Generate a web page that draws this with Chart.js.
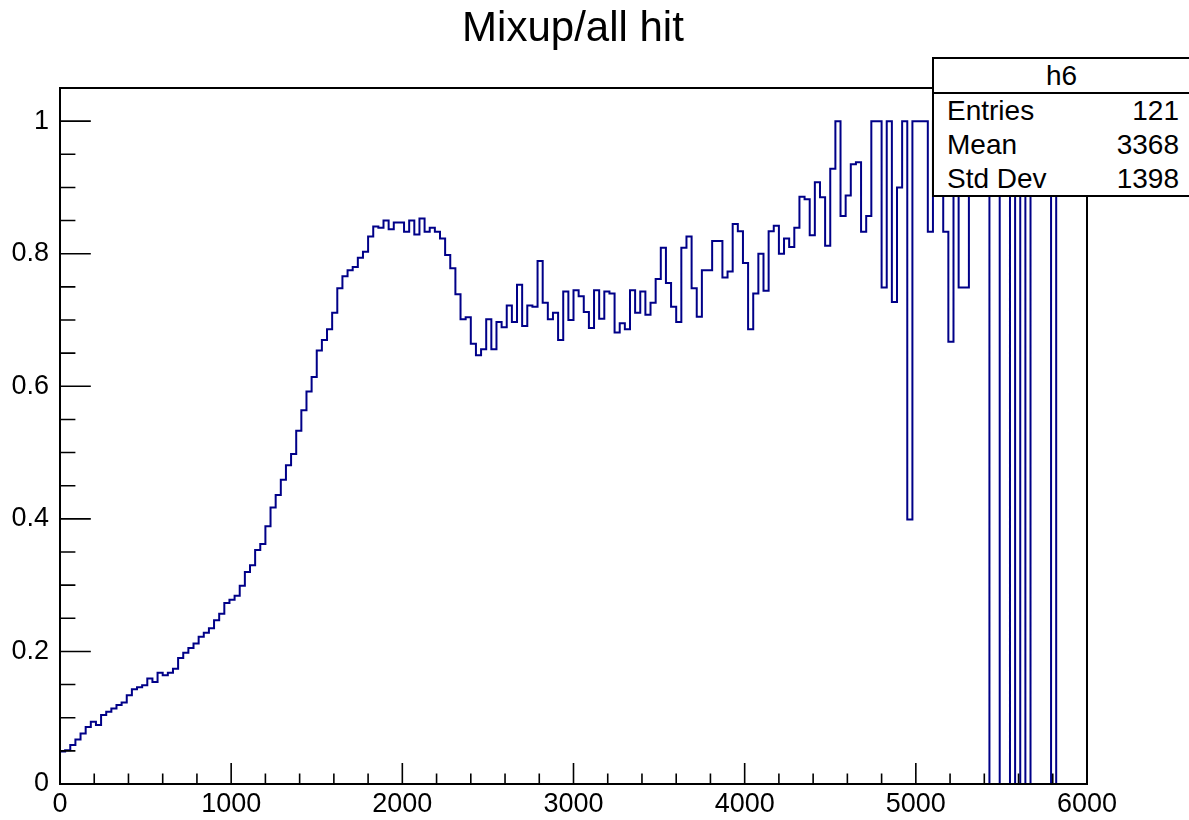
<!DOCTYPE html>
<html>
<head>
<meta charset="utf-8">
<script src="https://cdn.jsdelivr.net/npm/chart.js@4/dist/chart.umd.min.js"></script>
<style>
  html, body { margin: 0; padding: 0; background: #fff; }
  #wrap { position: relative; width: 1189px; height: 820px; font-family: "Liberation Sans", Arial, sans-serif; color: #000; }
  #histChart { position: absolute; left: 0; top: 0; }
  #title { position: absolute; left: 0; top: 3px; width: 1146px; text-align: center; font-size: 42px; line-height: 48px; }
  #stats { position: absolute; left: 932px; top: 57px; width: 255px; height: 136px; border: 2px solid #000; background: #fff; font-size: 28px; }
  #stats .head { height: 33px; line-height: 33px; text-align: center; border-bottom: 2px solid #000; }
  #stats .row { position: relative; height: 34px; line-height: 34px; }
  #stats .row span.k { position: absolute; left: 13px; }
  #stats .row span.v { position: absolute; right: 10px; }
</style>
</head>
<body>
<div id="wrap">
  <canvas id="histChart" width="1189" height="820"></canvas>
  <div id="title">Mixup/all hit</div>
  <div id="stats">
    <div class="head">h6</div>
    <div class="row"><span class="k">Entries</span><span class="v" id="entries"></span></div>
    <div class="row"><span class="k">Mean</span><span class="v" id="mean"></span></div>
    <div class="row"><span class="k">Std Dev</span><span class="v" id="stddev"></span></div>
  </div>
</div>
<script>
// histogram h6: 200 bins from 0 to 6000
const xMin = 0;
const xMax = 6000;
const binWidth = 30;

const binValues = [
  0.049, 0.051, 0.059, 0.067, 0.076, 0.086, 0.094, 0.089, 0.104, 0.109,
  0.114, 0.119, 0.123, 0.134, 0.143, 0.146, 0.149, 0.159, 0.154, 0.168,
  0.164, 0.168, 0.174, 0.190, 0.198, 0.205, 0.212, 0.222, 0.228, 0.235,
  0.247, 0.257, 0.273, 0.278, 0.284, 0.299, 0.320, 0.330, 0.353, 0.362,
  0.389, 0.417, 0.436, 0.459, 0.481, 0.498, 0.533, 0.564, 0.592, 0.614,
  0.654, 0.670, 0.686, 0.711, 0.748, 0.766, 0.775, 0.780, 0.794, 0.803,
  0.826, 0.841, 0.839, 0.850, 0.837, 0.847, 0.847, 0.833, 0.850, 0.829,
  0.853, 0.833, 0.839, 0.833, 0.823, 0.798, 0.778, 0.739, 0.701, 0.704,
  0.664, 0.647, 0.656, 0.701, 0.656, 0.697, 0.689, 0.722, 0.697, 0.753,
  0.691, 0.722, 0.720, 0.789, 0.726, 0.701, 0.711, 0.670, 0.743, 0.700,
  0.745, 0.736, 0.712, 0.688, 0.745, 0.702, 0.743, 0.740, 0.681, 0.695,
  0.686, 0.745, 0.711, 0.743, 0.708, 0.726, 0.762, 0.809, 0.756, 0.720,
  0.697, 0.809, 0.826, 0.748, 0.705, 0.775, 0.775, 0.819, 0.819, 0.764,
  0.773, 0.845, 0.834, 0.786, 0.686, 0.740, 0.800, 0.744, 0.834, 0.842,
  0.800, 0.823, 0.810, 0.839, 0.886, 0.882, 0.828, 0.908, 0.885, 0.812,
  0.928, 1.000, 0.857, 0.888, 0.935, 0.938, 0.833, 0.857, 1.000, 1.000,
  0.749, 1.000, 0.727, 0.900, 1.000, 0.399, 1.000, 1.000, 1.000, 0.833,
  1.000, 1.000, 0.833, 0.667, 1.000, 0.749, 0.749, 1.000, 1.000, 1.000,
  1.000, 0, 0, 1.000, 1.000, 0, 1.000, 0, 1.000, 0,
  0, 0, 0, 1.000, 0, 0, 0, 0, 0, 0
];

const xTickLabels = ['0', '1000', '2000', '3000', '4000', '5000', '6000'];
const yTickLabels = ['0', '0.2', '0.4', '0.6', '0.8', '1'];
const statsEntries = '121';
const statsMean = '3368';
const statsStdDev = '1398';

document.getElementById('entries').textContent = statsEntries;
document.getElementById('mean').textContent = statsMean;
document.getElementById('stddev').textContent = statsStdDev;

// bin left edges + closing point at right edge of last bin
const points = binValues.map((v, i) => ({ x: xMin + i * binWidth, y: v }));
points.push({ x: xMin + binValues.length * binWidth, y: binValues[binValues.length - 1] });

// ROOT-style frame with ticks pointing inward
const frameTicks = {
  id: 'frameTicks',
  afterDatasetsDraw(chart) {
    const { ctx, chartArea: a, scales: { x, y } } = chart;
    ctx.save();
    ctx.strokeStyle = '#000';
    ctx.lineWidth = 2;
    ctx.strokeRect(a.left, a.top, a.right - a.left, a.bottom - a.top);
    ctx.lineWidth = 1.6;
    ctx.beginPath();
    const h = a.bottom - a.top;
    const w = a.right - a.left;
    for (let v = 0; v <= xMax; v += 200) {
      const px = x.getPixelForValue(v);
      const len = v % 1000 === 0 ? h * 0.03 : h * 0.015;
      ctx.moveTo(px, a.bottom);
      ctx.lineTo(px, a.bottom - len);
    }
    for (let k = 0; k <= 21; k++) {
      const v = k * 0.05;
      const py = y.getPixelForValue(v);
      const len = k % 4 === 0 ? w * 0.03 : w * 0.015;
      ctx.moveTo(a.left, py);
      ctx.lineTo(a.left + len, py);
    }
    ctx.stroke();
    ctx.restore();
  }
};

new Chart(document.getElementById('histChart'), {
  type: 'line',
  data: {
    datasets: [{
      label: 'h6',
      data: points,
      stepped: true,
      borderColor: '#000088',
      borderWidth: 2,
      pointRadius: 0,
      fill: false,
      tension: 0
    }]
  },
  options: {
    responsive: false,
    animation: false,
    events: [],
    layout: { padding: { left: 0, right: 102, top: 88, bottom: 0 } },
    plugins: { legend: { display: false }, tooltip: { enabled: false } },
    scales: {
      x: {
        type: 'linear', min: xMin, max: xMax,
        grid: { display: false, drawTicks: false },
        border: { display: false },
        afterFit: s => { s.height = 36; },
        afterBuildTicks: s => { s.ticks = xTickLabels.map(t => ({ value: Number(t) })); },
        ticks: {
          autoSkip: false, maxRotation: 0, padding: 4, color: '#000',
          font: { family: 'Liberation Sans', size: 27 },
          callback: (v, i) => xTickLabels[i]
        }
      },
      y: {
        type: 'linear', min: 0, max: 1.05,
        grid: { display: false, drawTicks: false },
        border: { display: false },
        afterFit: s => { s.width = 60; },
        afterBuildTicks: s => { s.ticks = yTickLabels.map(t => ({ value: Number(t) })); },
        ticks: {
          autoSkip: false, padding: 11, color: '#000',
          font: { family: 'Liberation Sans', size: 27 },
          callback: (v, i) => yTickLabels[i]
        }
      }
    }
  },
  plugins: [frameTicks]
});
</script>
</body>
</html>
